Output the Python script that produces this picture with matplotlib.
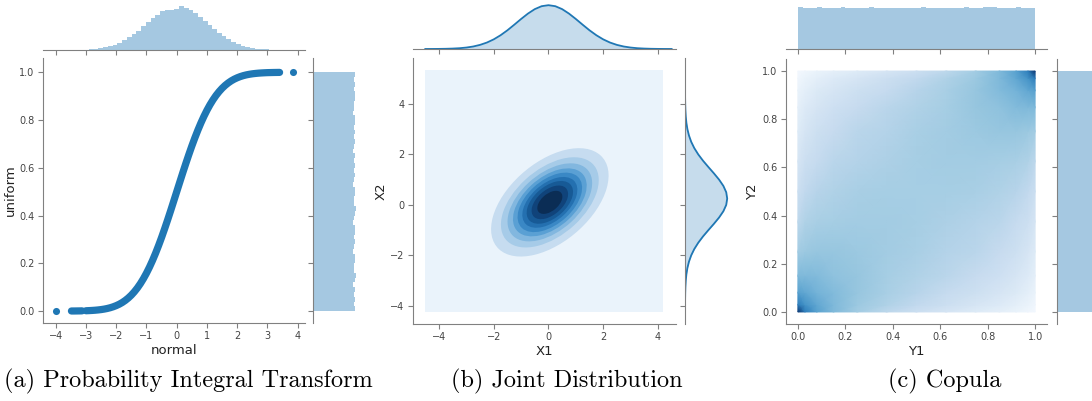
import numpy as np
import matplotlib
matplotlib.use("Agg")
import matplotlib.pyplot as plt
from matplotlib.patches import Ellipse, Rectangle
from matplotlib.colors import PowerNorm

# ---- data ----
# (a) probability integral transform: normal sample vs its CDF value
pit_x = [-3.0, -2.9, -2.8, -2.7, -2.6, -2.5, -2.4, -2.3, -2.2, -2.1, -2.0, -1.9, -1.8,
         -1.7, -1.6, -1.5, -1.4, -1.3, -1.2, -1.1, -1.0, -0.9, -0.8, -0.7, -0.6, -0.5,
         -0.4, -0.3, -0.2, -0.1, 0.0, 0.1, 0.2, 0.3, 0.4, 0.5, 0.6, 0.7, 0.8, 0.9, 1.0,
         1.1, 1.2, 1.3, 1.4, 1.5, 1.6, 1.7, 1.8, 1.9, 2.0, 2.1, 2.2, 2.3, 2.4, 2.5, 2.6,
         2.7, 2.8, 2.9, 3.0, 3.1, 3.2, 3.3, 3.4]
pit_y = [0.0013, 0.0019, 0.0026, 0.0035, 0.0047, 0.0062, 0.0082, 0.0107, 0.0139, 0.0179,
         0.0228, 0.0287, 0.0359, 0.0446, 0.0548, 0.0668, 0.0808, 0.0968, 0.1151, 0.1357,
         0.1587, 0.1841, 0.2119, 0.2420, 0.2743, 0.3085, 0.3446, 0.3821, 0.4207, 0.4602,
         0.5, 0.5398, 0.5793, 0.6179, 0.6554, 0.6915, 0.7257, 0.7580, 0.7881, 0.8159,
         0.8413, 0.8643, 0.8849, 0.9032, 0.9192, 0.9332, 0.9452, 0.9554, 0.9641, 0.9713,
         0.9772, 0.9821, 0.9861, 0.9893, 0.9918, 0.9938, 0.9953, 0.9965, 0.9974, 0.9981,
         0.9987, 0.9990, 0.9993, 0.9995, 0.9997]
pit_tail_x = [-3.48, -3.4, -3.3, -3.2, -3.13]
pit_tail_y = [0.0003, 0.0003, 0.0005, 0.0007, 0.0009]
pit_single_x = [-4.0, 3.84]
pit_single_y = [0.0, 1.0]

normal_hist = [0.0005, 0.001, 0.0015, 0.003, 0.004, 0.007, 0.011, 0.018, 0.028, 0.042,
               0.062, 0.088, 0.12, 0.165, 0.22, 0.29, 0.36, 0.44, 0.54, 0.63, 0.72, 0.80,
               0.88, 0.92, 0.91, 0.93, 1.0, 0.95, 0.91, 0.84, 0.75, 0.66, 0.57, 0.47, 0.39,
               0.31, 0.24, 0.18, 0.13, 0.097, 0.068, 0.047, 0.031, 0.020, 0.013, 0.008,
               0.005, 0.003, 0.002, 0.001]
uniform_hist = [0.97, 0.95, 0.99, 0.96, 0.98, 0.94, 0.97, 1.0, 0.96, 0.95, 0.98, 0.97, 0.93,
                0.96, 0.99, 0.95, 0.97, 0.98, 0.94, 0.96, 0.97, 1.0, 0.95, 0.96, 0.98, 0.97,
                0.94, 0.96, 0.99, 0.95, 0.97, 0.96, 0.98, 0.93, 0.96, 0.97, 0.95, 0.99, 0.96,
                0.98, 0.97, 0.94, 0.96, 0.95, 0.98, 0.97, 0.96, 0.99, 0.95, 0.97]

# (b) joint distribution: marginal KDE curves and nested density contours
kde_grid = [-4.5, -4.25, -4.0, -3.75, -3.5, -3.25, -3.0, -2.75, -2.5, -2.25, -2.0, -1.75,
            -1.5, -1.25, -1.0, -0.75, -0.5, -0.25, 0.0, 0.25, 0.5, 0.75, 1.0, 1.25, 1.5,
            1.75, 2.0, 2.25, 2.5, 2.75, 3.0, 3.25, 3.5, 3.75, 4.0, 4.25, 4.5]
kde_x1 = [0.0005, 0.0011, 0.0024, 0.0049, 0.0097, 0.018, 0.033, 0.057, 0.094, 0.147, 0.220,
          0.314, 0.427, 0.554, 0.685, 0.808, 0.910, 0.977, 1.0, 0.977, 0.910, 0.808, 0.685,
          0.554, 0.427, 0.314, 0.220, 0.147, 0.094, 0.057, 0.033, 0.018, 0.0097, 0.0049,
          0.0024, 0.0011, 0.0005]
kde_x2_grid = [-4.25, -4.0, -3.75, -3.5, -3.25, -3.0, -2.75, -2.5, -2.25, -2.0, -1.75, -1.5,
               -1.25, -1.0, -0.75, -0.5, -0.25, 0.0, 0.25, 0.5, 0.75, 1.0, 1.25, 1.5, 1.75,
               2.0, 2.25, 2.5, 2.75, 3.0, 3.25, 3.5, 3.75, 4.0, 4.25, 4.5, 4.75]
kde_x2 = kde_x1
contour_center = (0.05, 0.1)
contour_width = [5.25, 4.37, 3.78, 3.29, 2.88, 2.46, 2.07, 1.63, 1.12]
contour_height = [3.05, 2.54, 2.20, 1.92, 1.68, 1.43, 1.21, 0.95, 0.65]
contour_colors = ['#eaf3fb', '#c6dcf0', '#a6cbe8', '#82b7df', '#5aa0d4', '#3a88c5',
                  '#2470b0', '#175a96', '#10437a', '#0b2d55']
kde_box = (-4.5, -4.25, 4.2, 5.33)

# (c) copula: hexbin shade (0..1) on a grid of u, v nodes, plus flat marginals
cop_nodes = [0.0, 0.03, 0.08, 0.15, 0.25, 0.375, 0.5, 0.625, 0.75, 0.85, 0.92, 0.97, 1.0]
cop_shade = [
    [1.0, 0.65, 0.48, 0.37, 0.28, 0.20, 0.15, 0.11, 0.075, 0.05, 0.032, 0.017, 0.008],
    [0.65, 0.55, 0.45, 0.37, 0.30, 0.24, 0.19, 0.15, 0.11, 0.078, 0.054, 0.032, 0.017],
    [0.48, 0.45, 0.40, 0.36, 0.31, 0.26, 0.22, 0.18, 0.145, 0.11, 0.083, 0.054, 0.032],
    [0.37, 0.37, 0.36, 0.33, 0.31, 0.27, 0.24, 0.21, 0.175, 0.14, 0.11, 0.078, 0.05],
    [0.28, 0.30, 0.31, 0.31, 0.30, 0.28, 0.26, 0.23, 0.21, 0.175, 0.145, 0.11, 0.075],
    [0.20, 0.24, 0.26, 0.27, 0.28, 0.28, 0.27, 0.25, 0.23, 0.21, 0.18, 0.15, 0.11],
    [0.15, 0.19, 0.22, 0.24, 0.26, 0.27, 0.27, 0.27, 0.26, 0.24, 0.22, 0.19, 0.15],
    [0.11, 0.15, 0.18, 0.21, 0.23, 0.25, 0.27, 0.28, 0.28, 0.27, 0.26, 0.24, 0.20],
    [0.075, 0.11, 0.145, 0.175, 0.21, 0.23, 0.26, 0.28, 0.30, 0.31, 0.31, 0.30, 0.28],
    [0.05, 0.078, 0.11, 0.14, 0.175, 0.21, 0.24, 0.27, 0.31, 0.33, 0.36, 0.37, 0.37],
    [0.032, 0.054, 0.083, 0.11, 0.145, 0.18, 0.22, 0.26, 0.31, 0.36, 0.40, 0.45, 0.48],
    [0.017, 0.032, 0.054, 0.078, 0.11, 0.15, 0.19, 0.24, 0.30, 0.37, 0.45, 0.55, 0.65],
    [0.008, 0.017, 0.032, 0.05, 0.075, 0.11, 0.15, 0.20, 0.28, 0.37, 0.48, 0.65, 1.0],
]
y1_hist = [0.99, 0.98, 0.98, 0.97, 0.99, 0.98, 0.96, 0.97, 0.98, 0.99, 0.97, 0.96, 0.98,
           0.98, 0.97, 0.99, 0.98, 0.97, 0.96, 0.97, 0.98, 0.98, 0.97, 0.96, 0.97, 0.98,
           0.99, 0.98, 0.97, 0.98, 0.96, 0.97, 0.98, 0.97, 0.98, 0.99, 0.98, 0.97, 0.98,
           0.99, 1.0, 0.99, 0.98, 0.98, 0.97, 0.98, 0.99, 0.98, 0.97, 0.98]
y2_hist = [0.98, 0.97, 0.99, 0.98, 0.97, 0.98, 0.99, 0.97, 0.98, 0.96, 0.98, 0.99, 0.97,
           0.98, 0.98, 0.97, 0.99, 0.98, 0.97, 0.98, 0.96, 0.98, 0.99, 0.98, 0.97, 0.98,
           0.99, 0.97, 0.98, 0.98, 0.97, 0.99, 0.98, 0.96, 0.98, 0.97, 0.99, 0.98, 0.97,
           0.98, 0.99, 0.98, 0.97, 0.98, 0.98, 0.99, 0.97, 0.98, 0.99, 0.98]

captions = ['(a) Probability Integral Transform', '(b) Joint Distribution', '(c) Copula']

# ---- layout ----
W, H = 1092, 401
fig = plt.figure(figsize=(W / 100, H / 100), dpi=100)
blue = '#1f77b4'
spine_c = '#808080'


def px_axes(left, top, right, bottom):
    return fig.add_axes([left / W, 1 - bottom / H, (right - left) / W, (bottom - top) / H])


def style_main(ax):
    for s in ['top', 'right']:
        ax.spines[s].set_visible(False)
    for s in ['left', 'bottom']:
        ax.spines[s].set_color(spine_c)
    ax.tick_params(direction='out', length=3.5, color=spine_c, labelsize=7,
                   labelcolor='#444444', pad=2.5)


def style_top(ax, main):
    for s in ['top', 'right', 'left']:
        ax.spines[s].set_visible(False)
    ax.spines['bottom'].set_color(spine_c)
    ax.set_xticks(main.get_xticks())
    ax.set_xlim(main.get_xlim())
    ax.set_yticks([])
    ax.tick_params(direction='out', length=3.5, color=spine_c, labelbottom=False)


def style_right(ax, main):
    for s in ['top', 'right', 'bottom']:
        ax.spines[s].set_visible(False)
    ax.spines['left'].set_color(spine_c)
    ax.set_yticks(main.get_yticks())
    ax.set_ylim(main.get_ylim())
    ax.set_xticks([])
    ax.tick_params(direction='out', length=3.5, color=spine_c, labelleft=False)


lab = dict(fontsize=9.5, color='#222222')

# (a)
ax = px_axes(43, 58, 305, 323)
ax.plot(pit_x, pit_y, color=blue, lw=5.2, solid_capstyle='round')
ax.plot(pit_tail_x, pit_tail_y, color=blue, lw=5.2, solid_capstyle='round')
ax.scatter(pit_single_x, pit_single_y, s=26, color=blue, linewidths=0)
ax.set_xlim(-4.42, 4.24)
ax.set_ylim(-0.05, 1.06)
ax.set_xticks(range(-4, 5))
ax.set_yticks([0.0, 0.2, 0.4, 0.6, 0.8, 1.0])
style_main(ax)
ax.set_xlabel('normal', labelpad=2, **lab)
ax.set_ylabel('uniform', labelpad=2, **lab)

axt = px_axes(43, 3, 305, 50)
axt.stairs(normal_hist, np.linspace(-4.0, 3.84, len(normal_hist) + 1), fill=True,
           color=blue, alpha=0.4, linewidth=0)
axt.set_ylim(0, 1.07)
style_top(axt, ax)

axr = px_axes(313, 58, 358, 323)
axr.stairs(uniform_hist, np.linspace(0, 1, len(uniform_hist) + 1), fill=True,
           orientation='horizontal', color=blue, alpha=0.4, linewidth=0)
axr.set_xlim(0, 1.05)
style_right(axr, ax)

# (b)
ax = px_axes(413, 58, 676, 324)
x0, y0, x1, y1 = kde_box
ax.add_patch(Rectangle((x0, y0), x1 - x0, y1 - y0, color=contour_colors[0], lw=0))
for w, h, c in zip(contour_width, contour_height, contour_colors[1:]):
    ax.add_patch(Ellipse(contour_center, w, h, angle=45, color=c, lw=0))
ax.set_xlim(-4.95, 4.66)
ax.set_ylim(-4.72, 5.82)
ax.set_xticks([-4, -2, 0, 2, 4])
ax.set_yticks([-4, -2, 0, 2, 4])
style_main(ax)
ax.set_xlabel('X1', labelpad=2, **lab)
ax.set_ylabel('X2', labelpad=2, **lab)

axt = px_axes(413, 3, 676, 49)
axt.fill_between(kde_grid, kde_x1, color=blue, alpha=0.25, lw=0)
axt.plot(kde_grid, kde_x1, color=blue, lw=1.3)
axt.set_ylim(0, 1.05)
style_top(axt, ax)

axr = px_axes(685, 58, 731, 324)
axr.fill_betweenx(kde_x2_grid, kde_x2, color=blue, alpha=0.25, lw=0)
axr.plot(kde_x2, kde_x2_grid, color=blue, lw=1.3)
axr.set_xlim(0, 1.09)
style_right(axr, ax)

# (c)
ax = px_axes(786, 59, 1047, 324)
ax.pcolormesh(cop_nodes, cop_nodes, np.array(cop_shade), shading='gouraud',
              cmap='Blues', norm=PowerNorm(gamma=0.8, vmin=0, vmax=1))
ax.set_xlim(-0.05, 1.05)
ax.set_ylim(-0.05, 1.05)
ax.set_xticks([0.0, 0.2, 0.4, 0.6, 0.8, 1.0])
ax.set_yticks([0.0, 0.2, 0.4, 0.6, 0.8, 1.0])
style_main(ax)
ax.set_xlabel('Y1', labelpad=2, **lab)
ax.set_ylabel('Y2', labelpad=2, **lab)

axt = px_axes(786, 3, 1047, 49)
axt.stairs(y1_hist, np.linspace(0, 1, len(y1_hist) + 1), fill=True,
           color=blue, alpha=0.4, linewidth=0)
axt.set_ylim(0, 1.09)
style_top(axt, ax)

axr = px_axes(1057, 59, 1102, 324)
axr.stairs(y2_hist, np.linspace(0, 1, len(y2_hist) + 1), fill=True,
           orientation='horizontal', color=blue, alpha=0.4, linewidth=0)
axr.set_xlim(0, 1.05)
style_right(axr, ax)

# captions
for xpos, txt in zip([4, 451, 888], captions):
    fig.text(xpos / W, 1 - 381 / H, txt, family='cmr10', fontsize=17.5,
             ha='left', va='center', color='black')

fig.savefig('out.png', dpi=100)
